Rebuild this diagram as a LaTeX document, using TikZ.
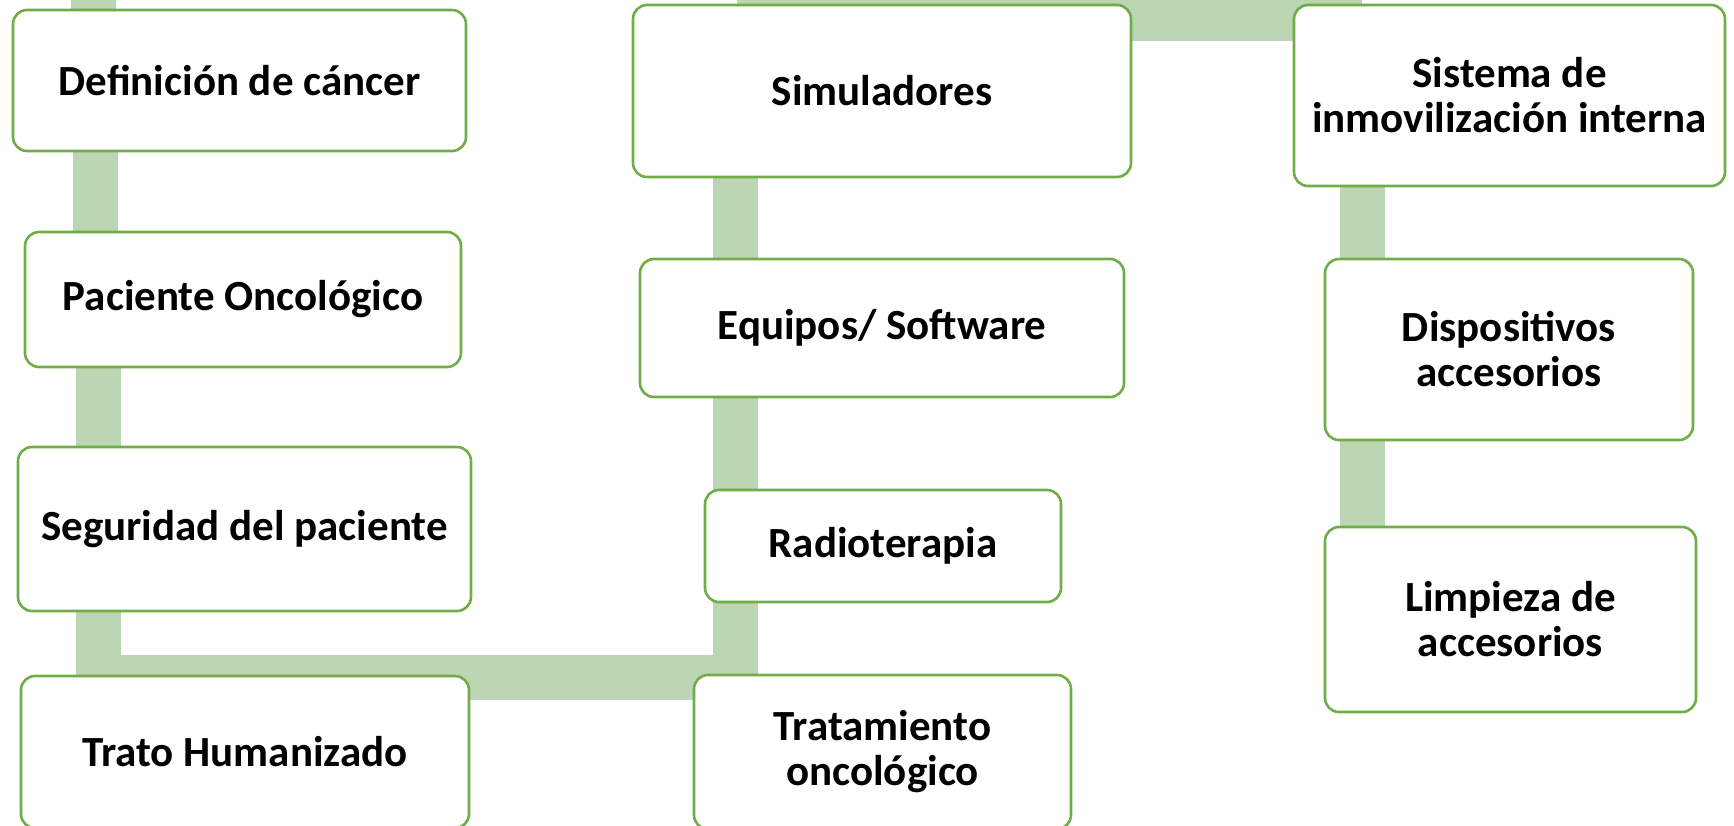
\documentclass[tikz,border=0pt]{standalone}
\usepackage{fontspec}
\setmainfont{Carlito}
\usetikzlibrary{calc}
\pgfdeclarelayer{bg}
\pgfsetlayers{bg,main}
\definecolor{boxgreen}{HTML}{70AD47}
\definecolor{bandgreen}{HTML}{BCD5B3}
\tikzset{
  box/.style={draw=boxgreen, line width=2.6pt, rounded corners=14pt, fill=white,
    align=center, inner sep=0pt, font=\fontsize{43}{45}\selectfont\bfseries},
  band/.style={draw=bandgreen, line width=45pt, line join=miter},
}
\begin{document}
\begin{tikzpicture}[x=1pt,y=-1pt]
\useasboundingbox (0,0) rectangle (1734,825);
% left column
\node[box, minimum width=453pt, minimum height=141pt] (def) at (239.5,80.5) {Definición de cáncer};
\node[box, minimum width=436pt, minimum height=135pt] (pac) at (243,299.5) {Paciente Oncológico};
\node[box, minimum width=453pt, minimum height=164pt] (seg) at (244.5,529) {Seguridad del paciente};
\node[box, minimum width=448pt, minimum height=152pt] (tra) at (245,752) {Trato Humanizado};
% middle column
\node[box, minimum width=498pt, minimum height=172pt] (sim) at (882,91) {Simuladores};
\node[box, minimum width=484pt, minimum height=138pt] (equ) at (882,328) {Equipos/ Software};
\node[box, minimum width=356pt, minimum height=112pt] (rad) at (883,546) {Radioterapia};
\node[box, minimum width=377pt, minimum height=154pt] (tto) at (882.5,752) {Tratamiento\\oncológico};
% right column
\node[box, minimum width=431pt, minimum height=181pt] (sis) at (1509.5,95.5) {Sistema de\\inmovilización interna};
\node[box, minimum width=368pt, minimum height=181pt] (dis) at (1509,349.5) {Dispositivos\\accesorios};
\node[box, minimum width=371pt, minimum height=185pt] (lim) at (1510.5,619.5) {Limpieza de\\accesorios};
% connectors
\coordinate (cT) at (93,-5);
\coordinate (cD) at (95,0);
\coordinate (cL) at (98,677.5);
\coordinate (cM) at (735,677.5);
\coordinate (tM) at (737,18);
\coordinate (tR) at (1362,18);
\begin{pgfonlayer}{bg}
\draw[band] (cT) -- (def.center -| cT);
\draw[band] (def.center -| cD) -- (pac.center -| cD);
\draw[band] (pac.center -| cL) -- (cL) -- (cM) -- (sim.center -| cM);
\draw[band] (tM) -- (tR);
\draw[band] (sis.center -| tR) -- (lim.center -| tR);
\end{pgfonlayer}
\end{tikzpicture}
\end{document}
